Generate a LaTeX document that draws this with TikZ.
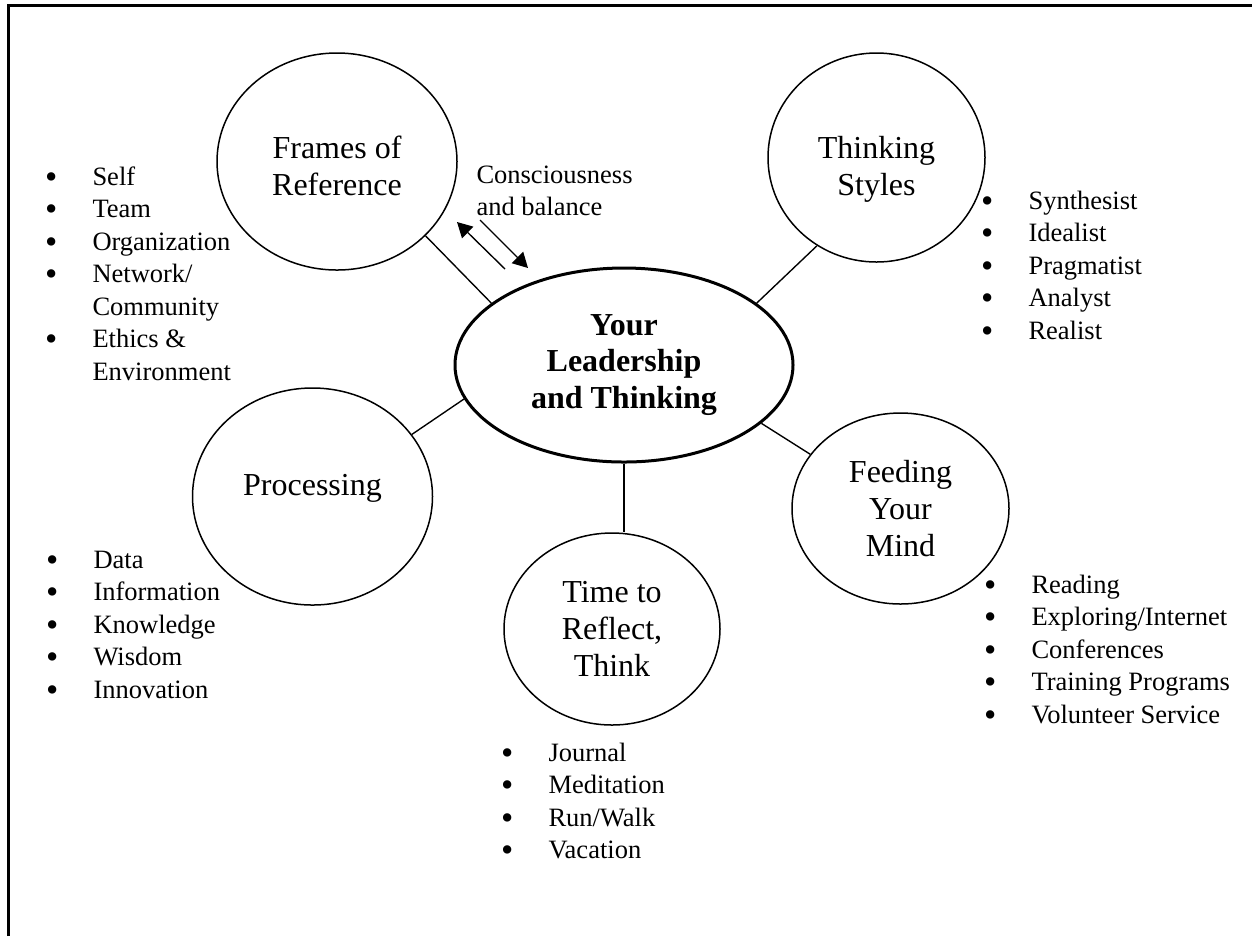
\documentclass[tikz,border=0pt]{standalone}
\usepackage{fontspec}
\setmainfont{Liberation Serif}
\usetikzlibrary{
  arrows.meta,
  shapes.geometric,
  positioning
}

\newcommand{\dotmark}{\raisebox{-1.3pt}{\fontsize{14}{13}\selectfont\textbullet}}
\newcommand{\pointlist}[1]{\begin{tabular}[t]{@{}p{19pt}@{}l@{}}#1\end{tabular}}

\tikzset{
  ring/.style={draw, ellipse, line width=0.6pt, inner sep=0pt, align=center,
    font=\fontsize{12.8}{14.8}\selectfont},
  hub/.style={ring, line width=1.2pt, font=\fontsize{12.8}{14.6}\selectfont\bfseries},
  points/.style={anchor=base west, inner sep=0pt, font=\fontsize{10.6}{13}\selectfont},
  link/.style={line width=0.55pt}
}

\begin{document}
\begin{tikzpicture}[x=0.4pt, y=-0.4pt, >={Triangle[length=6pt,width=6.4pt]}]
\useasboundingbox (0,0) rectangle (1252,936);
\draw[line width=1.2pt] (8,936) -- (8,5) -- (1252,5);

% the centre and its five circles
\node[hub, minimum width=135.2pt, minimum height=77.6pt] (lead) at (624,365)	{Your\\Leadership\\and Thinking};
\node[ring, minimum width=96pt, minimum height=86.8pt] (frames) at (337,161.5)	{\rule{0pt}{12.8pt}Frames of\\Reference};
\node[ring, minimum width=86.8pt, minimum height=83.6pt] (styles) at (876.5,157.5)	{\rule{0pt}{18pt}Thinking\\Styles};
\node[ring, minimum width=96pt, minimum height=86.8pt, text height=8pt, text depth=9.2pt] (proc) at (312.5,496.5)	{Processing};
\node[ring, minimum width=86.4pt, minimum height=76.8pt] (time) at (612,629)	{Time to\\Reflect,\\Think};
\node[ring, minimum width=86.8pt, minimum height=76.4pt] (feed) at (900.5,508.5)	{Feeding\\Your\\Mind};

\path[link]	(frames.-40)	edge (lead.155)
			(styles.236)	edge (lead.25)
			(proc.32)	edge (lead.192.5)
			(lead.-23)	edge (feed.149.4)
			(lead.south)	edge (lead.south |- time.north);

% consciousness and balance
\coordinate (c1) at (505,269);
\coordinate (c2) at (457,222);
\coordinate (c3) at (480,220);
\coordinate (c4) at (528,268);
\draw[link,->] (c1) -- (c2);
\draw[link,->] (c3) -- (c4);
\node[points] (balance) at (476,183)	{\begin{tabular}[t]{@{}l@{}}Consciousness\\and balance\end{tabular}};

% bullet lists
\node[points] (framesList) at (44.5,185)	{\pointlist{\dotmark & Self\\ \dotmark & Team\\ \dotmark & Organization\\ \dotmark & Network/\\ & Community\\ \dotmark & Ethics \&\\ & Environment}};
\node[points] (stylesList) at (980.5,209)	{\pointlist{\dotmark & Synthesist\\ \dotmark & Idealist\\ \dotmark & Pragmatist\\ \dotmark & Analyst\\ \dotmark & Realist}};
\node[points] (procList) at (45.5,568)	{\pointlist{\dotmark & Data\\ \dotmark & Information\\ \dotmark & Knowledge\\ \dotmark & Wisdom\\ \dotmark & Innovation}};
\node[points] (timeList) at (500.5,761)	{\pointlist{\dotmark & Journal\\ \dotmark & Meditation\\ \dotmark & Run/Walk\\ \dotmark & Vacation}};
\node[points] (feedList) at (983.5,593)	{\pointlist{\dotmark & Reading\\ \dotmark & Exploring/Internet\\ \dotmark & Conferences\\ \dotmark & Training Programs\\ \dotmark & Volunteer Service}};
\end{tikzpicture}
\end{document}
